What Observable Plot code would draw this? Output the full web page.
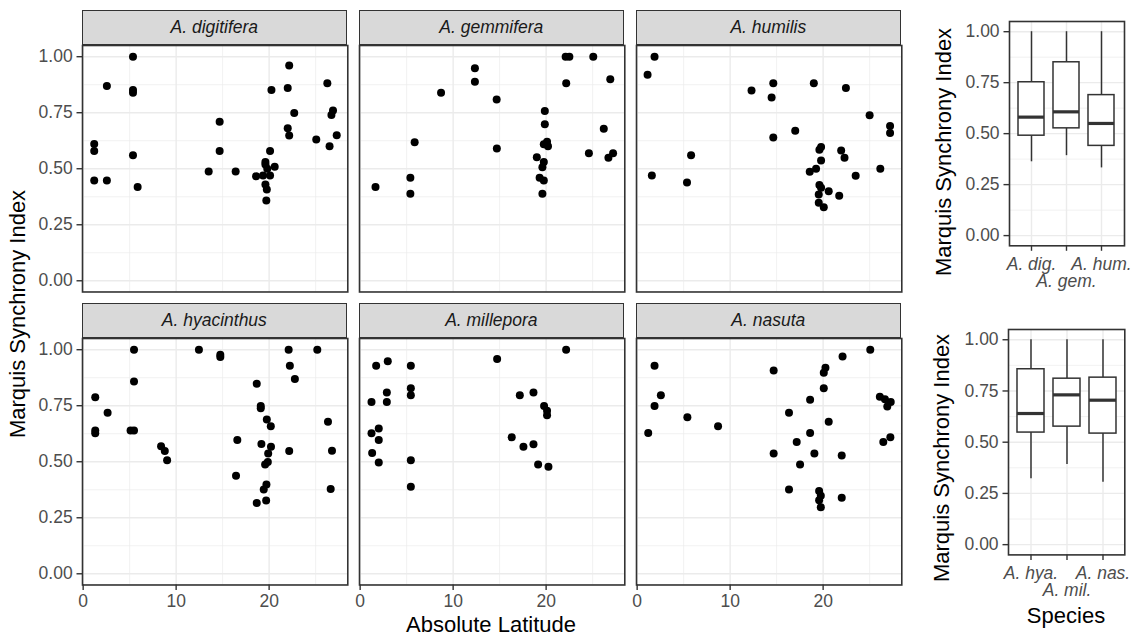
<!DOCTYPE html>
<html><head><meta charset="utf-8">
<script src="https://cdn.jsdelivr.net/npm/d3@7"></script>
<script src="https://cdn.jsdelivr.net/npm/@observablehq/plot@0.6"></script>
<style>
body{margin:0;background:#fff;}
#chart{position:relative;width:1135px;height:638px;background:#fff;font-family:"Liberation Sans",Arial,Helvetica,sans-serif;overflow:hidden;}
.strip{position:absolute;box-sizing:border-box;background:#D9D9D9;border:1.6px solid #333;display:flex;align-items:center;justify-content:center;font-style:italic;font-size:17.5px;color:#1A1A1A;}
.title{position:absolute;font-size:22px;line-height:1;color:#000;white-space:nowrap;}
</style></head><body><div id="chart"></div>
<script>
// ---------- data ----------
const speciesNames = ["A. digitifera","A. gemmifera","A. humilis","A. hyacinthus","A. millepora","A. nasuta"];

const digLat  = [5.36,2.55,5.36,5.36,1.19,1.19,5.36,1.19,2.55,5.86,14.68,14.68,13.5,16.4,18.6,19.35,19.6,19.6,19.8,20.1,20.6,20.1,19.6,19.75,19.7,20.25,22.16,22.0,22.7,22.0,22.16,25.07,26.26,26.87,26.7,27.27,26.5];
const digSync = [1.0,0.869,0.851,0.839,0.610,0.579,0.560,0.448,0.448,0.419,0.710,0.579,0.488,0.488,0.466,0.470,0.530,0.519,0.500,0.579,0.509,0.470,0.430,0.407,0.358,0.851,0.961,0.860,0.749,0.681,0.648,0.630,0.881,0.760,0.740,0.649,0.600];

const gemLat  = [1.65,5.4,5.4,5.86,8.7,12.34,12.34,14.68,14.7,19.86,19.86,20.1,20.2,19.75,19.0,19.75,19.6,19.3,19.75,19.6,22.1,22.5,22.16,25.07,26.9,26.2,24.6,26.7,27.2];
const gemSync = [0.419,0.460,0.388,0.618,0.839,0.948,0.888,0.809,0.590,0.758,0.699,0.621,0.600,0.609,0.551,0.530,0.507,0.460,0.448,0.388,1.0,1.0,0.881,1.0,0.899,0.679,0.569,0.549,0.569];

const humLat  = [1.87,1.12,1.58,5.8,5.36,12.3,14.64,14.46,14.64,17.0,19.0,22.45,25.0,27.2,27.2,26.15,19.78,19.6,19.78,21.94,22.3,19.24,18.56,23.5,19.6,19.78,20.6,19.53,19.53,20.07,21.73];
const humSync = [1.0,0.919,0.470,0.560,0.439,0.849,0.881,0.818,0.639,0.669,0.881,0.860,0.739,0.691,0.660,0.500,0.597,0.585,0.537,0.581,0.549,0.500,0.487,0.469,0.428,0.415,0.399,0.385,0.348,0.328,0.379];

const hyaLat  = [5.47,12.45,14.75,14.75,22.1,25.18,22.23,22.77,5.47,18.67,1.3,2.63,19.1,19.1,19.75,20.18,26.33,1.3,1.3,5.1,5.47,8.38,8.78,9.03,16.58,19.17,20.2,19.9,22.16,26.76,19.86,19.57,16.44,19.71,19.42,18.67,19.68,26.62];
const hyaSync = [1.0,1.0,0.978,0.967,1.0,1.0,0.928,0.869,0.858,0.848,0.788,0.719,0.749,0.739,0.688,0.658,0.678,0.639,0.627,0.639,0.639,0.569,0.548,0.507,0.597,0.579,0.567,0.537,0.548,0.549,0.499,0.488,0.437,0.399,0.376,0.316,0.327,0.378];

const milLat  = [1.72,2.97,5.45,5.45,5.45,2.87,1.22,2.87,2.0,1.22,2.0,1.29,2.0,5.45,5.45,14.73,22.15,17.17,18.64,19.78,20.1,20.1,16.3,17.56,18.64,19.14,20.25];
const milSync = [0.928,0.948,0.928,0.828,0.797,0.809,0.767,0.767,0.648,0.627,0.597,0.539,0.497,0.507,0.388,0.958,1.0,0.797,0.809,0.749,0.728,0.707,0.609,0.567,0.578,0.488,0.478];

const nasLat  = [1.87,2.55,1.87,1.19,5.4,8.7,14.68,14.68,16.33,16.33,17.16,17.52,18.6,18.6,19.06,19.57,19.75,19.57,19.75,20.25,20.07,20.07,20.6,22.09,22.0,22.0,25.07,26.1,26.65,27.27,26.9,26.47,27.23];
const nasSync = [0.928,0.797,0.749,0.628,0.699,0.658,0.907,0.537,0.719,0.376,0.588,0.488,0.777,0.628,0.537,0.369,0.348,0.328,0.297,0.919,0.897,0.828,0.678,0.970,0.528,0.339,1.0,0.790,0.779,0.767,0.746,0.588,0.609];

// boxplot summaries
const box1Species = ["A. dig.","A. gem.","A. hum."];
const box1Min = [0.362,0.392,0.332];
const box1Q1  = [0.490,0.526,0.440];
const box1Med = [0.581,0.607,0.550];
const box1Q3  = [0.752,0.850,0.689];
const box1Max = [1.0,1.0,1.0];

const box2Species = ["A. hya.","A. mil.","A. nas."];
const box2Min = [0.321,0.391,0.304];
const box2Q1  = [0.547,0.576,0.542];
const box2Med = [0.640,0.731,0.705];
const box2Q3  = [0.856,0.810,0.815];
const box2Max = [1.0,1.0,1.0];

// ticks
const yMajor = [0,0.25,0.5,0.75,1];
const yMinor = [0.125,0.375,0.625,0.875];
const xMajor = [0,10,20];
const xMinor = [5,15,25];

// ---------- layout ----------
const FONT = '"Liberation Sans", Arial, Helvetica, sans-serif';
const chart = document.getElementById("chart");
const colLeft = [81.7, 358.7, 635.7], panelW = 265.3;
const rowTop = [44.5, 337.5], panelH = 246.5, stripH = 35;
const xDomain = [-0.07, 28.46], yDomain = [-0.05, 1.05];
const GRID = "#EBEBEB", DARK = "#333333", TXT = "#4D4D4D";

function baseStyle(left, top){
  return {position:"absolute", left:left+"px", top:top+"px", overflow:"visible",
          background:"transparent", fontFamily:FONT, fontSize:"17.5px", color:TXT, maxWidth:"none"};
}

const lats = [digLat, gemLat, humLat, hyaLat, milLat, nasLat];
const syncs = [digSync, gemSync, humSync, hyaSync, milSync, nasSync];

speciesNames.forEach((name, i) => {
  const r = Math.floor(i/3), c = i % 3;
  const ml = c === 0 ? 75 : 2, mr = 2, mt = 2, mb = r === 1 ? 40 : 2;
  const data = lats[i].map((x, j) => ({x, y: syncs[i][j]}));
  const marks = [
    Plot.ruleY(yMinor, {stroke: GRID, strokeWidth: 0.7}),
    Plot.ruleX(xMinor, {stroke: GRID, strokeWidth: 0.7}),
    Plot.ruleY(yMajor, {stroke: GRID, strokeWidth: 1.4}),
    Plot.ruleX(xMajor, {stroke: GRID, strokeWidth: 1.4}),
    Plot.dot(data, {x: "x", y: "y", r: 4, fill: "#000"}),
    Plot.frame({stroke: DARK, strokeWidth: 1.6})
  ];
  if (c === 0) marks.push(Plot.axisY({anchor: "left", ticks: yMajor, tickFormat: d => d.toFixed(2),
      tickSize: 5.5, tickPadding: 4.4, stroke: DARK, fill: TXT, strokeWidth: 1.4, label: null}));
  if (r === 1) marks.push(Plot.axisX({anchor: "bottom", ticks: xMajor, tickFormat: d => String(d),
      tickSize: 5.5, tickPadding: 4.0, stroke: DARK, fill: TXT, strokeWidth: 1.4, label: null}));
  const svg = Plot.plot({
    width: ml + panelW + mr, height: mt + panelH + mb,
    marginLeft: ml, marginRight: mr, marginTop: mt, marginBottom: mb,
    x: {domain: xDomain, ...(r === 1 ? {} : {axis: null})},
    y: {domain: yDomain, ...(c === 0 ? {} : {axis: null})},
    style: baseStyle(colLeft[c] - ml, rowTop[r] - mt),
    marks
  });
  chart.appendChild(svg);
  const strip = document.createElement("div");
  strip.className = "strip";
  strip.textContent = name;
  strip.style.left = colLeft[c] + "px";
  strip.style.top = (rowTop[r] - stripH) + "px";
  strip.style.width = panelW + "px";
  strip.style.height = (stripH + 0.8) + "px";
  chart.appendChild(strip);
});

function boxPlot(species, mins, q1s, meds, q3s, maxs, left, top, w, h){
  const data = species.map((s, i) => ({s, min: mins[i], q1: q1s[i], med: meds[i], q3: q3s[i], max: maxs[i]}));
  const ml = 75, mr = 2, mt = 2, mb = 60;
  const svg = Plot.plot({
    width: ml + w + mr, height: mt + h + mb,
    marginLeft: ml, marginRight: mr, marginTop: mt, marginBottom: mb,
    x: {type: "band", domain: species, paddingInner: 0.25, paddingOuter: 0.225},
    y: {domain: yDomain},
    style: baseStyle(left - ml, top - mt),
    marks: [
      Plot.ruleY(yMinor, {stroke: GRID, strokeWidth: 0.7}),
      Plot.ruleY(yMajor, {stroke: GRID, strokeWidth: 1.4}),
      Plot.ruleX(species, {x: d => d, stroke: GRID, strokeWidth: 1.4}),
      Plot.ruleX(data, {x: "s", y1: "q3", y2: "max", stroke: DARK, strokeWidth: 1.5}),
      Plot.ruleX(data, {x: "s", y1: "min", y2: "q1", stroke: DARK, strokeWidth: 1.5}),
      Plot.barY(data, {x: "s", y1: "q1", y2: "q3", fill: "#fff", stroke: DARK, strokeWidth: 1.5}),
      Plot.tickY(data, {x: "s", y: "med", stroke: DARK, strokeWidth: 3.2}),
      Plot.frame({stroke: DARK, strokeWidth: 1.6}),
      Plot.axisY({anchor: "left", ticks: yMajor, tickFormat: d => d.toFixed(2),
        tickSize: 5.5, tickPadding: 4.4, stroke: DARK, fill: TXT, strokeWidth: 1.4, label: null}),
      Plot.axisX({anchor: "bottom", tickFormat: d => (d === species[1] ? "" : d),
        tickSize: 5.5, tickPadding: 6.5, stroke: DARK, fill: TXT, strokeWidth: 1.4, fontStyle: "italic", label: null}),
      Plot.axisX({anchor: "bottom", tickFormat: d => (d === species[1] ? d : ""),
        tickSize: 0, tickPadding: 29, fill: TXT, fontStyle: "italic", label: null})
    ]
  });
  chart.appendChild(svg);
}

boxPlot(box1Species, box1Min, box1Q1, box1Med, box1Q3, box1Max, 1009.3, 20.7, 115, 224.3);
boxPlot(box2Species, box2Min, box2Q1, box2Med, box2Q3, box2Max, 1008, 329.3, 116.3, 225.4);

// ---------- titles ----------
function title(text, cx, cy, rotate){
  const d = document.createElement("div");
  d.className = "title";
  d.textContent = text;
  d.style.left = cx + "px";
  d.style.top = cy + "px";
  d.style.transform = "translate(-50%,-50%)" + (rotate ? " rotate(-90deg)" : "");
  chart.appendChild(d);
}
title("Marquis Synchrony Index", 18, 314, true);
title("Absolute Latitude", 491, 625, false);
title("Marquis Synchrony Index", 944, 152, true);
title("Marquis Synchrony Index", 942, 458, true);
title("Species", 1066, 616, false);
</script></body></html>
